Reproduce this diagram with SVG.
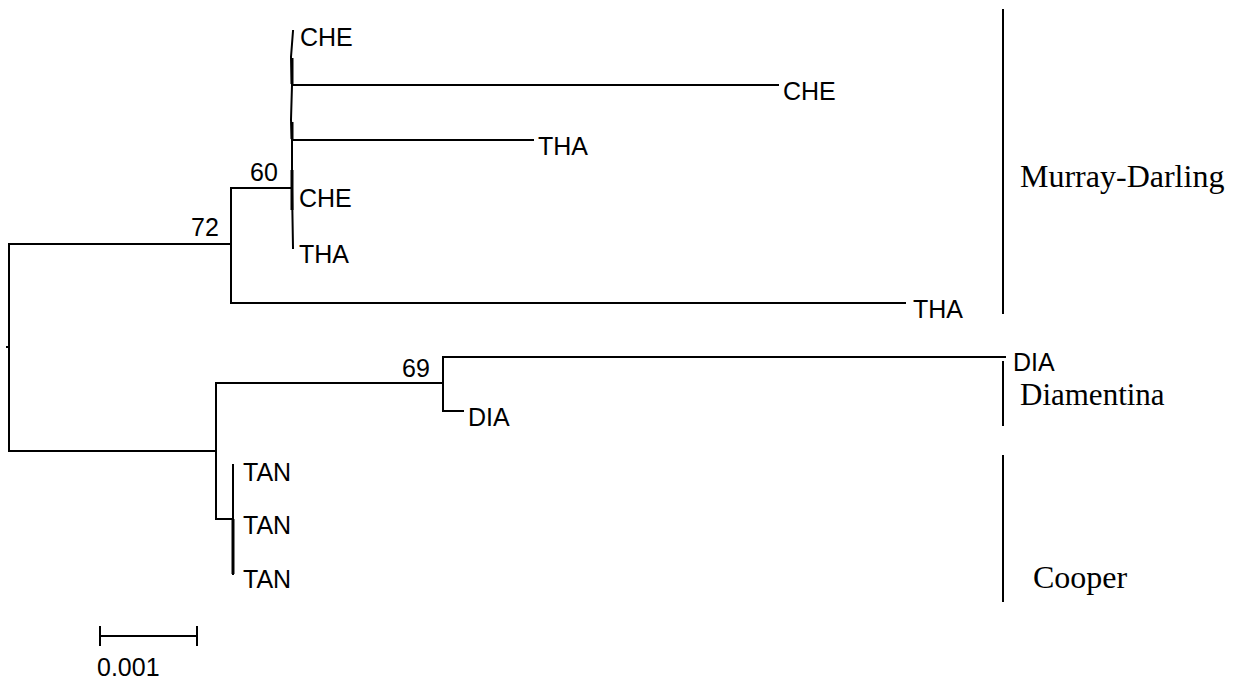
<svg xmlns="http://www.w3.org/2000/svg" width="1237" height="683" viewBox="0 0 1237 683">
  <style>
    .br { fill: none; stroke: #000; stroke-width: 2; stroke-linecap: square; }
    .bold { fill: none; stroke: #000; stroke-width: 3; }
    .leaf { font-family: "Liberation Sans", Arial, sans-serif; font-size: 25px; fill: #000; }
    .boot { font-family: "Liberation Sans", Arial, sans-serif; font-size: 25px; fill: #000; }
    .grp { font-family: "Liberation Serif", "Times New Roman", serif; font-size: 32px; fill: #000; }
  </style>
  <rect width="1237" height="683" fill="#fff"/>

  <!-- tree branches -->
  <g id="connectors">
    <!-- root -->
    <path class="br" d="M9,244 V451 M7,347 H9"/>
    <path class="br" d="M9,244 H231"/>
    <path class="br" d="M9,451 H216"/>
    <!-- Murray-Darling clade -->
    <path class="br" d="M231,188 V303 M231,303 H905"/>
    <path class="br" d="M231,188 H292"/>
    <path class="br" d="M293,31 L291,57 L292,85 L291,120 L292,140 L292,188 L293,248"/>
    <path class="bold" d="M292,58 V84 M292,122 V139 M292,170 V210"/>
    <path class="br" d="M292,85 H778"/>
    <path class="br" d="M292,140 H533"/>
    <!-- Diamentina clade -->
    <path class="br" d="M216,383 V519"/>
    <path class="br" d="M216,383 H443 M443,357 V411 M443,357 H1005 M443,411 H463"/>
    <!-- Cooper clade -->
    <path class="br" d="M216,519 H233 M233,465 V574"/>
    <path class="bold" d="M233,519 V574"/>
    <!-- scale bar -->
    <path class="br" d="M100,636 H197 M100,627 V645 M197,627 V645"/>
    <!-- group bars -->
    <path class="br" d="M1003,10 V313 M1003,362 V425 M1003,456 V601"/>
  </g>

  <g id="n-che1"><text class="leaf" x="300" y="46">CHE</text></g>
  <g id="n-che2"><text class="leaf" x="783" y="100">CHE</text></g>
  <g id="n-tha1"><text class="leaf" x="538" y="155">THA</text></g>
  <g id="n-che3"><text class="leaf" x="299" y="207">CHE</text></g>
  <g id="n-tha2"><text class="leaf" x="299" y="263">THA</text></g>
  <g id="n-tha3"><text class="leaf" x="913" y="318">THA</text></g>
  <g id="n-dia1"><text class="leaf" x="1013" y="371">DIA</text></g>
  <g id="n-dia2"><text class="leaf" x="468" y="426">DIA</text></g>
  <g id="n-tan1"><text class="leaf" x="243" y="481">TAN</text></g>
  <g id="n-tan2"><text class="leaf" x="243" y="534">TAN</text></g>
  <g id="n-tan3"><text class="leaf" x="243" y="588">TAN</text></g>

  <g id="boot-60"><text class="boot" x="250" y="181">60</text></g>
  <g id="boot-72"><text class="boot" x="191" y="236">72</text></g>
  <g id="boot-69"><text class="boot" x="402" y="377">69</text></g>

  <g id="scale-label"><text class="leaf" x="97" y="676">0.001</text></g>

  <g id="grp-murray"><text class="grp" x="1020" y="187">Murray-Darling</text></g>
  <g id="grp-diamentina"><text class="grp" x="1020" y="405" style="font-size:31px">Diamentina</text></g>
  <g id="grp-cooper"><text class="grp" x="1033" y="588">Cooper</text></g>
</svg>
